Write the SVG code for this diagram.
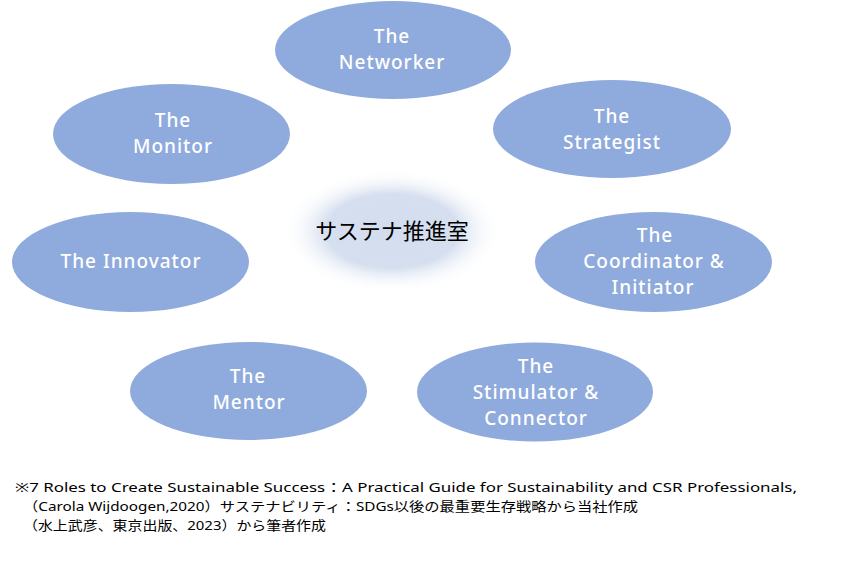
<svg xmlns="http://www.w3.org/2000/svg" width="842" height="575" viewBox="0 0 842 575">
<style>
.node{fill:#8FAADC}
.lbl{fill:#FFFFFF;font-family:"Noto Sans","Liberation Sans",sans-serif;font-size:19px;font-weight:500;letter-spacing:1px;text-anchor:middle}
.ctr{fill:#000000;font-family:"Noto Sans CJK JP","Noto Sans",sans-serif;font-size:22px;text-anchor:middle}
.note{fill:#000000;font-family:"Noto Sans","Noto Sans CJK JP",sans-serif;font-size:13px}
</style>
<defs>
<radialGradient id="glow" cx="0.5" cy="0.5" r="0.5">
<stop offset="0" stop-color="#D3DDEF"/>
<stop offset="0.6" stop-color="#D6DFEF"/>
<stop offset="1" stop-color="#FFFFFF" stop-opacity="0"/>
</radialGradient>
</defs>
<rect x="0" y="0" width="842" height="575" fill="#FFFFFF"/>
<g id="connectors"></g>
<g id="center">
<ellipse cx="392" cy="231" rx="110" ry="62" fill="url(#glow)"/>
<text class="ctr" x="392" y="239">サステナ推進室</text>
</g>
<g id="networker">
<ellipse class="node" cx="393" cy="50" rx="118" ry="49"/>
<text class="lbl" x="392" y="43">The</text>
<text class="lbl" x="392" y="69">Networker</text>
</g>
<g id="monitor">
<ellipse class="node" cx="171.5" cy="134" rx="118.5" ry="50"/>
<text class="lbl" x="173" y="127">The</text>
<text class="lbl" x="173" y="153">Monitor</text>
</g>
<g id="strategist">
<ellipse class="node" cx="612" cy="129" rx="119" ry="49"/>
<text class="lbl" x="612" y="123">The</text>
<text class="lbl" x="612" y="149">Strategist</text>
</g>
<g id="innovator">
<ellipse class="node" cx="130.5" cy="262" rx="118.5" ry="50"/>
<text class="lbl" x="131" y="268">The Innovator</text>
</g>
<g id="coordinator">
<ellipse class="node" cx="653.5" cy="262" rx="118.5" ry="50"/>
<text class="lbl" x="655" y="242">The</text>
<text class="lbl" x="654" y="268">Coordinator &amp;</text>
<text class="lbl" x="653" y="294">Initiator</text>
</g>
<g id="mentor">
<ellipse class="node" cx="248.5" cy="391" rx="118.5" ry="49"/>
<text class="lbl" x="248" y="383">The</text>
<text class="lbl" x="249" y="409">Mentor</text>
</g>
<g id="stimulator">
<ellipse class="node" cx="535" cy="392" rx="118" ry="49.5"/>
<text class="lbl" x="536" y="373">The</text>
<text class="lbl" x="536" y="399">Stimulator &amp;</text>
<text class="lbl" x="536" y="425">Connector</text>
</g>
<g id="footnote">
<text class="note" x="15" y="492" textLength="782" lengthAdjust="spacingAndGlyphs">※7 Roles to Create Sustainable Success：A Practical Guide for Sustainability and CSR Professionals,</text>
<text class="note" x="23" y="511" textLength="615" lengthAdjust="spacingAndGlyphs">（Carola Wijdoogen,2020）サステナビリティ：SDGs以後の最重要生存戦略から当社作成</text>
<text class="note" x="23" y="530" textLength="303" lengthAdjust="spacingAndGlyphs">（水上武彦、東京出版、2023）から筆者作成</text>
</g>
</svg>
